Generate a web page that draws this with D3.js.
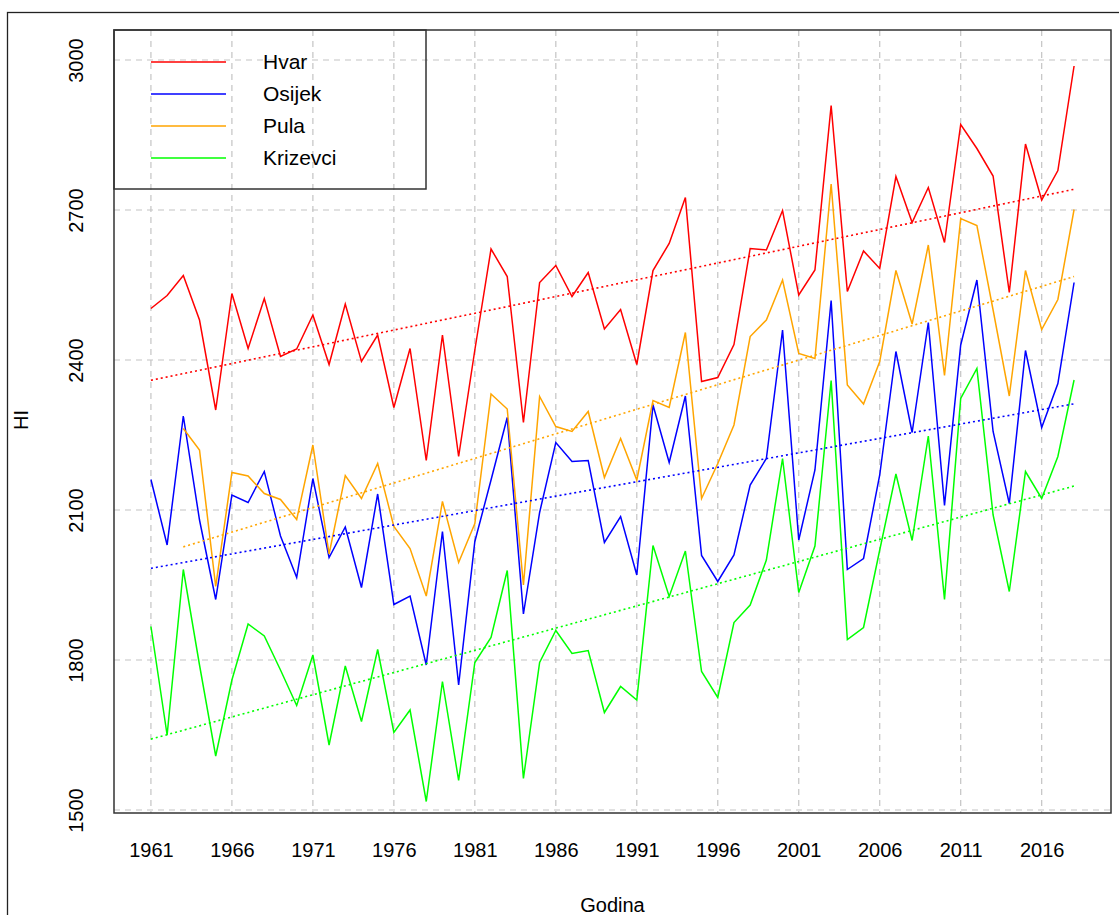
<!DOCTYPE html>
<html><head><meta charset="utf-8">
<script src="https://cdn.jsdelivr.net/npm/d3@7"></script>
<style>
html,body{margin:0;padding:0;background:#fff;}
text{font-family:"Liberation Sans",Arial,sans-serif;fill:#000;}
</style></head>
<body>
<svg id="chart" width="1119" height="915"></svg>
<script>
const years = [1961,1962,1963,1964,1965,1966,1967,1968,1969,1970,1971,1972,1973,1974,1975,1976,1977,1978,1979,1980,1981,1982,1983,1984,1985,1986,1987,1988,1989,1990,1991,1992,1993,1994,1995,1996,1997,1998,1999,2000,2001,2002,2003,2004,2005,2006,2007,2008,2009,2010,2011,2012,2013,2014,2015,2016,2017,2018];
const hvar = [2503,2529,2569,2480,2300,2533,2423,2523,2407,2422,2490,2391,2512,2397,2450,2305,2423,2199,2450,2207,2420,2622,2567,2275,2555,2589,2527,2575,2462,2501,2391,2579,2633,2725,2357,2365,2431,2623,2620,2699,2530,2580,2909,2537,2618,2583,2767,2675,2745,2635,2871,2823,2768,2535,2832,2720,2779,2988];
const osijek = [2161,2030,2288,2080,1921,2130,2115,2177,2048,1965,2163,2005,2066,1945,2132,1911,1928,1790,2057,1750,2037,2160,2285,1892,2095,2235,2197,2199,2035,2087,1970,2310,2195,2328,2009,1957,2010,2150,2203,2460,2040,2180,2519,1981,2003,2170,2417,2255,2475,2109,2430,2560,2257,2113,2419,2265,2353,2555];
const pula = [null,null,2263,2220,1947,2175,2168,2133,2121,2081,2230,2012,2169,2123,2193,2067,2023,1928,2117,1995,2073,2332,2302,1950,2327,2267,2257,2297,2165,2243,2160,2319,2305,2455,2123,2193,2270,2447,2480,2560,2413,2403,2752,2350,2312,2397,2579,2472,2630,2369,2683,2669,2500,2328,2579,2461,2521,2701];
const krizevci = [1867,1650,1981,1790,1608,1760,1872,1848,1780,1709,1810,1630,1788,1677,1821,1655,1700,1517,1757,1559,1795,1845,1979,1563,1795,1859,1813,1819,1695,1747,1720,2029,1927,2018,1777,1725,1875,1910,2000,2203,1935,2028,2359,1841,1865,2020,2172,2039,2248,1921,2323,2383,2090,1937,2177,2123,2207,2360];
const seriesNames = ["Hvar","Osijek","Pula","Krizevci"];
const seriesColors = ["#ff0000","#0000ff","#ffa500","#00ff00"];
const xTicks = [1961,1966,1971,1976,1981,1986,1991,1996,2001,2006,2011,2016];
const yTicks = [1500,1800,2100,2400,2700,3000];
const xTitle = "Godina";
const yTitle = "HI";

const seriesValues = [hvar, osijek, pula, krizevci];

const svg = d3.select("#chart");
const L = 114, R = 1111, T = 30, B = 813;

const x = d3.scaleLinear().domain([1958.72, 2020.28]).range([L, R]);
const y = d3.scaleLinear().domain([1494, 3060]).range([B, T]);

// outer frame
svg.append("rect").attr("x",7.5).attr("y",12.5).attr("width",1130).attr("height",920)
  .attr("fill","none").attr("stroke","#222").attr("stroke-width",1.3);

// grid
const grid = svg.append("g");
grid.selectAll("line.v").data(xTicks).join("line")
  .attr("x1",d=>x(d)).attr("x2",d=>x(d)).attr("y1",T).attr("y2",B)
  .attr("stroke","#c4c4c4").attr("stroke-width",1.2).attr("stroke-dasharray","6,5");
grid.selectAll("line.h").data(yTicks).join("line")
  .attr("x1",L).attr("x2",R).attr("y1",d=>y(d)).attr("y2",d=>y(d))
  .attr("stroke","#c4c4c4").attr("stroke-width",1.2).attr("stroke-dasharray","6,5");

// axes
const xAxis = d3.axisBottom(x).tickValues(xTicks).tickFormat(d3.format("d")).tickSize(0).tickPadding(30);
const gx = svg.append("g").attr("transform",`translate(0,${B})`).call(xAxis);
gx.select(".domain").remove();
gx.selectAll("text").attr("font-size",20).attr("font-family","Liberation Sans, Arial, sans-serif").attr("fill","#000");

const yAxis = d3.axisLeft(y).tickValues(yTicks).tickFormat(d3.format("d")).tickSize(0);
const gy = svg.append("g").attr("transform",`translate(${L},0)`).call(yAxis);
gy.select(".domain").remove();
gy.selectAll("text").attr("font-size",20).attr("font-family","Liberation Sans, Arial, sans-serif").attr("fill","#000")
  .attr("x",0).attr("dy",0).attr("text-anchor","middle")
  .attr("transform","translate(-31,0) rotate(-90)");

// titles
svg.append("text").attr("x",(L+R)/2).attr("y",912).attr("text-anchor","middle").attr("font-size",20).text(xTitle);
svg.append("text").attr("transform","translate(28,420) rotate(-90)").attr("text-anchor","middle").attr("font-size",20).text(yTitle);

// series
const plot = svg.append("g");
const line = d3.line().defined(d=>d.v!==null).x(d=>x(d.year)).y(d=>y(d.v));
seriesValues.forEach((vals,i)=>{
  const pts = years.map((yr,k)=>({year:yr, v:vals[k]}));
  plot.append("path").datum(pts).attr("d",line).attr("fill","none")
    .attr("stroke",seriesColors[i]).attr("stroke-width",1.5).attr("stroke-linejoin","miter");
});
// regression trend lines
seriesValues.forEach((vals,i)=>{
  const pts = years.map((yr,k)=>({year:yr, v:vals[k]})).filter(d=>d.v!==null);
  const mx = d3.mean(pts,d=>d.year), my = d3.mean(pts,d=>d.v);
  const b = d3.sum(pts,d=>(d.year-mx)*(d.v-my))/d3.sum(pts,d=>(d.year-mx)**2);
  const a = my - b*mx;
  const ends = [pts[0].year, pts[pts.length-1].year].map(yr=>({year:yr, v:a+b*yr}));
  plot.append("path").datum(ends).attr("d",line).attr("fill","none")
    .attr("stroke",seriesColors[i]).attr("stroke-width",1.6).attr("stroke-dasharray","2,3");
});

// plot box
svg.append("rect").attr("x",L).attr("y",T).attr("width",R-L).attr("height",B-T)
  .attr("fill","none").attr("stroke","#333").attr("stroke-width",1.5);

// legend (transparent, grid shows through)
const lg = svg.append("g");
lg.append("rect").attr("x",L).attr("y",T).attr("width",426-L).attr("height",159)
  .attr("fill","none").attr("stroke","#333").attr("stroke-width",1.5);
seriesNames.forEach((n,i)=>{
  const yy = 62 + i*32;
  lg.append("line").attr("x1",151).attr("x2",226).attr("y1",yy).attr("y2",yy)
    .attr("stroke",seriesColors[i]).attr("stroke-width",1.6);
  lg.append("text").attr("x",263).attr("y",yy+7).attr("font-size",21).text(n);
});
</script>
</body></html>
